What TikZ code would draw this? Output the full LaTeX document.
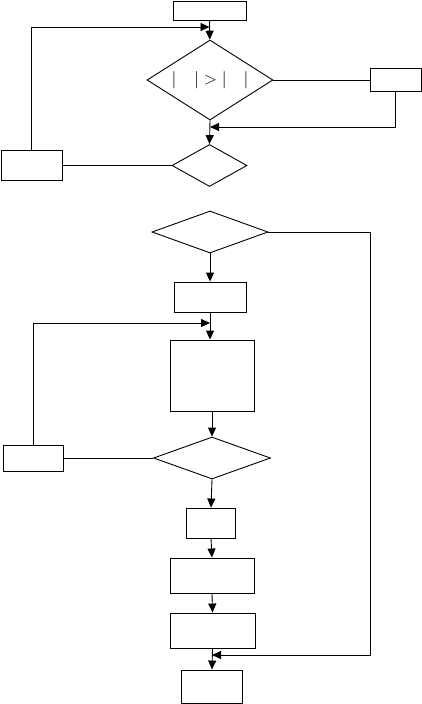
\documentclass[tikz,border=0pt]{standalone}
\usetikzlibrary{shapes.geometric,arrows.meta}
\begin{document}
\begin{tikzpicture}[x=1pt, y=-1pt, line width=0.9pt,
    box/.style={draw, rectangle, inner sep=0pt},
    cond/.style={draw, diamond, inner sep=0pt},
    arr/.style={-{Triangle[length=9pt, width=8pt]}}]
    \useasboundingbox (0, 0) rectangle (422, 704);

    % Верхняя часть
    \node[box, minimum width=73pt, minimum height=19pt] (start) at (209.5, 10.5) {};
    \node[cond, aspect=1.575, minimum width=126pt, minimum height=80pt, font=\fontsize{17}{20}\selectfont] (d1) at (210, 80)
        {$|\hspace{18pt}|>|\hspace{17pt}|$};
    \node[box, minimum width=51pt, minimum height=23pt] (r1) at (395.5, 80) {};
    \node[cond, minimum width=75pt, minimum height=42pt] (d2) at (209.5, 165.5) {};
    \node[box, minimum width=61pt, minimum height=30pt] (lb1) at (31.5, 165.5) {};

    \coordinate (j1) at (209.5, 27);
    \coordinate (j2) at (210, 127);

    \draw[arr] (start) -- (d1);
    \draw (d1.east) -- (r1.west);
    \draw[arr] (r1.south) |- (j2);
    \draw[arr] (d1.south) -- (d2.north);
    \draw (d2.west) -- (lb1.east);
    \draw[arr] (lb1.north) |- (j1);

    % Нижняя часть
    \node[cond, minimum width=116pt, minimum height=42pt] (d3) at (210, 232) {};
    \node[box, minimum width=72pt, minimum height=30pt] (b2) at (210, 297) {};
    \node[box, minimum width=84pt, minimum height=71pt] (b3) at (212, 375.5) {};
    \node[cond, minimum width=117pt, minimum height=42pt] (d4) at (212, 458) {};
    \node[box, minimum width=60pt, minimum height=26pt] (lb2) at (33, 458) {};
    \node[box, minimum width=49pt, minimum height=30pt] (b4) at (211, 523) {};
    \node[box, minimum width=84pt, minimum height=35pt] (b5) at (212, 575.5) {};
    \node[box, minimum width=85pt, minimum height=35pt] (b6) at (212.5, 630.5) {};
    \node[box, minimum width=61pt, minimum height=33pt] (b7) at (212, 686.5) {};

    \coordinate (j4) at (210, 323);
    \coordinate (c3) at (370, 655);
    \coordinate (j3) at (212, 655);

    \draw[arr] (d3.south) -- (b2.north);
    \draw[arr] (b2.south) -- (b2.south |- b3.north);
    \draw[arr] (b3.south) -- (d4.north);
    \draw (d4.west) -- (lb2.east);
    \draw[arr] (lb2.north) |- (j4);
    \draw[arr] (d4.south) -- (b4.north);
    \draw[arr] (b4.south) -- (b5.north);
    \draw[arr] (b5.south) -- (b6.north);
    \draw[arr] (b6.south) -- (b7.north);
    \draw[arr] (d3.east) -| (c3) -- (j3);
\end{tikzpicture}
\end{document}
